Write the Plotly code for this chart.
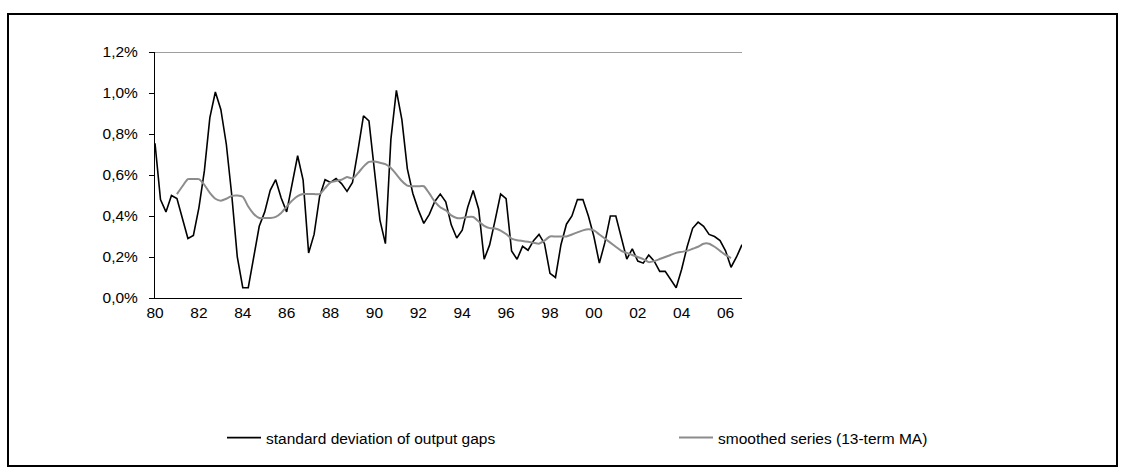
import plotly.graph_objects as go

# Quarterly observations, 1980Q1 - 2006Q4
years_start = 80
quarters_per_year = 4

std_output_gaps = [
    0.755, 0.48, 0.42, 0.50, 0.485, 0.39, 0.29, 0.305,
    0.44, 0.62, 0.88, 1.005, 0.92, 0.75, 0.50, 0.20,
    0.05, 0.05, 0.20, 0.35, 0.42, 0.525, 0.577, 0.488,
    0.42, 0.56, 0.694, 0.575, 0.22, 0.31, 0.494, 0.577,
    0.564, 0.583, 0.558, 0.52, 0.564, 0.72, 0.889, 0.864,
    0.63, 0.38, 0.265, 0.775, 1.013, 0.87, 0.63, 0.51,
    0.43, 0.364, 0.408, 0.471, 0.507, 0.469, 0.357, 0.293,
    0.331, 0.443, 0.524, 0.433, 0.189, 0.259, 0.38, 0.507,
    0.485, 0.229, 0.189, 0.252, 0.233, 0.28, 0.31, 0.265,
    0.12, 0.10, 0.26, 0.36, 0.40, 0.48, 0.48, 0.40,
    0.30, 0.17, 0.27, 0.40, 0.40, 0.29, 0.19, 0.24,
    0.18, 0.17, 0.21, 0.18, 0.13, 0.13, 0.09, 0.05,
    0.14, 0.25, 0.34, 0.37, 0.35, 0.31, 0.30, 0.28,
    0.23, 0.15, 0.20, 0.26,
]

# Smoothed series starts in 1981Q1
smoothed_offset = 4
smoothed_ma13 = [
    0.507, 0.545, 0.58, 0.58, 0.58, 0.552, 0.513, 0.484,
    0.475, 0.484, 0.498, 0.50, 0.494, 0.446, 0.41, 0.39,
    0.39, 0.39, 0.396, 0.415, 0.446, 0.475, 0.497, 0.507,
    0.507, 0.507, 0.507, 0.536, 0.564, 0.571, 0.577, 0.59,
    0.583, 0.609, 0.641, 0.664, 0.666, 0.66, 0.653, 0.634,
    0.603, 0.571, 0.548, 0.545, 0.545, 0.545, 0.51, 0.47,
    0.443, 0.428, 0.403, 0.39, 0.39, 0.395, 0.395, 0.373,
    0.352, 0.341, 0.339, 0.329, 0.312, 0.29, 0.282, 0.278,
    0.274, 0.269, 0.265, 0.28, 0.30, 0.30, 0.30, 0.30,
    0.31, 0.32, 0.33, 0.335, 0.33, 0.31, 0.29, 0.27,
    0.25, 0.23, 0.22, 0.21, 0.20, 0.19, 0.175, 0.18,
    0.19, 0.20, 0.21, 0.22, 0.225, 0.23, 0.24, 0.25,
    0.265, 0.265, 0.25, 0.23, 0.21, 0.195,
]

x_tick_vals = list(range(80, 107, 2))
x_tick_text = ["80", "82", "84", "86", "88", "90", "92", "94", "96", "98",
               "00", "02", "04", "06"]
y_tick_vals = [0.0, 0.2, 0.4, 0.6, 0.8, 1.0, 1.2]
y_tick_text = ["0,0%", "0,2%", "0,4%", "0,6%", "0,8%", "1,0%", "1,2%"]

series_names = ["standard deviation of output gaps", "smoothed series (13-term MA)"]

x_raw = [years_start + i / quarters_per_year for i in range(len(std_output_gaps))]
x_smooth = [years_start + (i + smoothed_offset) / quarters_per_year
            for i in range(len(smoothed_ma13))]

W, H = 1125, 472
L, R, T, B = 155, 383, 52, 174
pw, ph = W - L - R, H - T - B


def px(x):
    return (x - L) / pw


def py(y):
    return (H - B - y) / ph


FONT = "Liberation Sans, Arial, sans-serif"
FS = 15.5

fig = go.Figure()
fig.add_trace(go.Scatter(
    x=x_raw, y=std_output_gaps, mode="lines", name=series_names[0],
    line=dict(color="#000000", width=1.6), legend="legend",
))
fig.add_trace(go.Scatter(
    x=x_smooth, y=smoothed_ma13, mode="lines", name=series_names[1],
    line=dict(color="#8c8c8c", width=2, shape="spline", smoothing=0.6),
    legend="legend2",
))

legend_common = dict(
    orientation="h", yanchor="middle", xanchor="left",
    font=dict(family=FONT, size=FS), itemwidth=34,
    bgcolor="rgba(0,0,0,0)",
)

fig.update_layout(
    width=W, height=H,
    margin=dict(l=L, r=R, t=T, b=B),
    paper_bgcolor="white", plot_bgcolor="white",
    font=dict(family=FONT, size=FS, color="#000000"),
    showlegend=True,
    legend=dict(x=px(222), y=py(438), **legend_common),
    legend2=dict(x=px(674), y=py(438), **legend_common),
    xaxis=dict(
        range=[80, 106.75], tickvals=x_tick_vals, ticktext=x_tick_text,
        showgrid=False, zeroline=False, showline=True, linecolor="#000000",
        linewidth=1, ticks="", tickfont=dict(size=FS),
    ),
    yaxis=dict(
        range=[0, 1.2], tickvals=y_tick_vals, ticktext=y_tick_text,
        showgrid=False, zeroline=False, showline=True, linecolor="#000000",
        linewidth=1, ticks="outside", ticklen=5, tickcolor="#000000",
        tickfont=dict(size=FS), ticklabelstandoff=8,
    ),
    shapes=[
        # top edge of the plotting area
        dict(type="line", xref="x domain", yref="y", x0=0, x1=1, y0=1.2, y1=1.2,
             line=dict(color="#7f7f7f", width=1.5)),
        # outer chart frame
        dict(type="rect", xref="paper", yref="paper",
             x0=px(8), x1=px(1117), y0=py(14), y1=py(466),
             line=dict(color="#000000", width=2)),
    ],
)

fig.write_html("out.html")
